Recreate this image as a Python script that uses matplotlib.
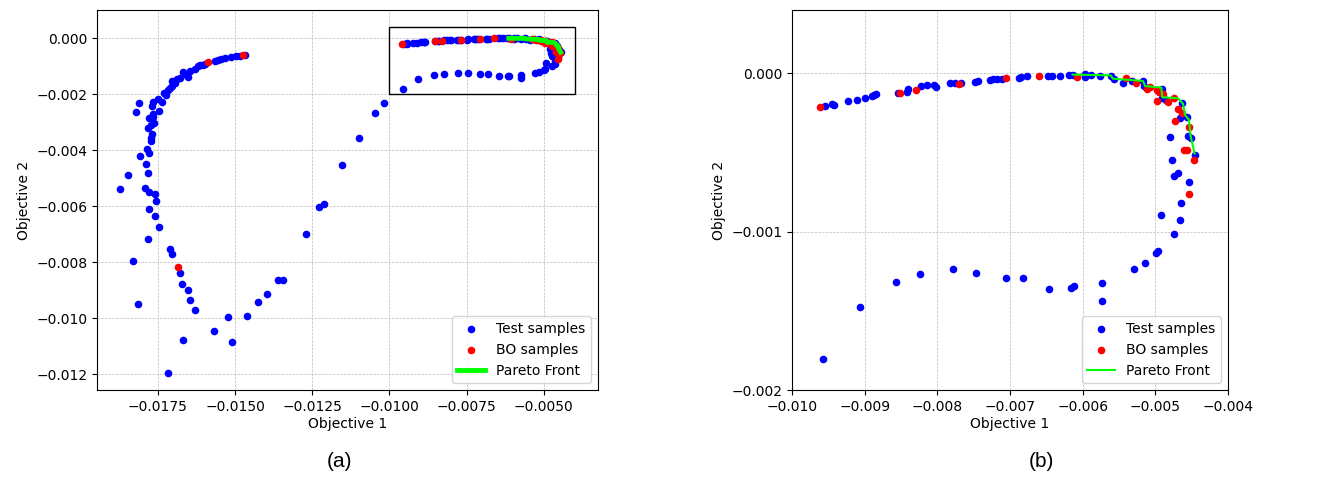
import numpy as np
import matplotlib
matplotlib.use("Agg")
import matplotlib.pyplot as plt
from matplotlib.patches import Rectangle

# test samples (objective 1, objective 2)
test_x = [
    # zoomed region, upper arc
    -0.009541, -0.009445, -0.009417, -0.009234, -0.009110, -0.008995, -0.008894, -0.008867, -0.008839,
    -0.008541, -0.008422, -0.008399, -0.008229, -0.008147, -0.008046, -0.008023, -0.007826, -0.007761,
    -0.007674, -0.007482, -0.007445, -0.007275, -0.007229, -0.007179, -0.007115, -0.006872, -0.006849,
    -0.006771, -0.006477, -0.006427, -0.006317, -0.006183, -0.006138, -0.005972, -0.005972, -0.005881,
    -0.005757, -0.005615, -0.005569, -0.005450, -0.005317, -0.005174, -0.005151, -0.004940, -0.004908,
    -0.004904, -0.004849, -0.004633, -0.004656, -0.004560, -0.004555, -0.004505, -0.004803, -0.004459,
    # zoomed region, lower loop
    -0.004766, -0.004748, -0.004683, -0.004532, -0.004647, -0.004656, -0.004922, -0.004748, -0.004986,
    -0.004963, -0.005147, -0.005298, -0.005734, -0.005739, -0.006115, -0.006156, -0.006468, -0.006817,
    -0.007060, -0.007463, -0.007789, -0.008243, -0.008569, -0.009069, -0.009578,
    # left arc
    -0.014693, -0.014963, -0.015125, -0.015341, -0.015557, -0.015665, -0.015989, -0.016043, -0.016205,
    -0.016313, -0.016475, -0.016528, -0.016636, -0.016798, -0.016885, -0.016960, -0.017036, -0.017122,
    -0.017176, -0.017316, -0.017252, -0.017500, -0.017360, -0.018115, -0.017662, -0.017694, -0.018202,
    -0.017478, -0.017662, -0.017791, -0.017662, -0.017630, -0.017716, -0.017824, -0.017705, -0.017727,
    -0.017727, -0.017856, -0.017802, -0.018072, -0.017878, -0.017813, -0.018472, -0.018741, -0.017932,
    -0.017781, -0.017586, -0.017576, -0.017781, -0.017608, -0.017457, -0.017824, -0.017111, -0.017057,
    -0.018310, -0.016777, -0.016723, -0.016528, -0.016453, -0.016302, -0.018137, -0.015222, -0.014607,
    -0.015676, -0.016680, -0.015093, -0.017187, -0.014272, -0.013959, -0.013603, -0.013463, -0.012707,
    -0.012286, -0.012124, -0.011531, -0.011002, -0.010484, -0.010171,
    -0.014850, -0.015450, -0.016150, -0.016700, -0.017050,
]
test_y = [
    -0.000208, -0.000193, -0.000199, -0.000174, -0.000166, -0.000157, -0.000145, -0.000134, -0.000132,
    -0.000124, -0.000115, -0.000101, -0.000082, -0.000075, -0.000073, -0.000088, -0.000061, -0.000063,
    -0.000061, -0.000055, -0.000046, -0.000042, -0.000036, -0.000036, -0.000036, -0.000031, -0.000025,
    -0.000019, -0.000017, -0.000017, -0.000017, -0.000008, -0.000008, -0.000004, -0.000025, -0.000010,
    -0.000019, -0.000017, -0.000038, -0.000059, -0.000046, -0.000050, -0.000080, -0.000105, -0.000101,
    -0.000153, -0.000170, -0.000189, -0.000283, -0.000273, -0.000394, -0.000411, -0.000400, -0.000514,
    -0.000545, -0.000648, -0.000631, -0.000688, -0.000822, -0.000925, -0.000897, -0.001015, -0.001132,
    -0.001119, -0.001195, -0.001233, -0.001323, -0.001440, -0.001342, -0.001356, -0.001363, -0.001294,
    -0.001291, -0.001264, -0.001235, -0.001268, -0.001317, -0.001476, -0.001807,
    -0.000619, -0.000655, -0.000679, -0.000726, -0.000798, -0.000821, -0.000917, -0.000976, -0.001012,
    -0.001095, -0.001167, -0.001393, -0.001274, -0.001429, -0.001464, -0.001607, -0.001702, -0.001786,
    -0.001845, -0.001964, -0.002024, -0.002167, -0.002298, -0.002333, -0.002298, -0.002440, -0.002655,
    -0.002595, -0.002702, -0.002857, -0.002821, -0.003036, -0.003095, -0.003214, -0.003417, -0.003571,
    -0.003690, -0.003964, -0.004107, -0.004226, -0.004488, -0.004821, -0.004905, -0.005393, -0.005357,
    -0.005512, -0.005583, -0.005833, -0.006095, -0.006357, -0.006750, -0.007155, -0.007512, -0.007702,
    -0.007952, -0.008393, -0.008774, -0.008976, -0.009333, -0.009690, -0.009476, -0.009964, -0.009929,
    -0.010440, -0.010786, -0.010857, -0.011964, -0.009417, -0.009143, -0.008643, -0.008643, -0.006976,
    -0.006024, -0.005905, -0.004548, -0.003583, -0.002679, -0.002333,
    -0.000640, -0.000760, -0.000960, -0.001200, -0.001520,
]

# BO samples
bo_x = [
    -0.009610, -0.008518, -0.008298, -0.007697, -0.007060, -0.006606, -0.006078, -0.005399, -0.005261,
    -0.005110, -0.004977, -0.004977, -0.004894, -0.004826, -0.004739, -0.004688, -0.004729, -0.004638,
    -0.004537, -0.004610, -0.004564, -0.004468, -0.004532, -0.005078, -0.004950,
    -0.014758, -0.015870, -0.016842,
]
bo_y = [
    -0.000210, -0.000124, -0.000103, -0.000065, -0.000027, -0.000017, -0.000025, -0.000027, -0.000063,
    -0.000096, -0.000105, -0.000172, -0.000130, -0.000178, -0.000157, -0.000226, -0.000300, -0.000252,
    -0.000340, -0.000482, -0.000484, -0.000549, -0.000761, -0.000088, -0.000115,
    -0.000595, -0.000869, -0.008155,
]

# Pareto front
pareto_x = [-0.006138, -0.005615, -0.005583, -0.005170, -0.005142, -0.004917, -0.004904,
            -0.004688, -0.004619, -0.004592, -0.004537, -0.004514, -0.004459]
pareto_y = [-0.000008, -0.000013, -0.000034, -0.000048, -0.000080, -0.000090, -0.000151,
            -0.000157, -0.000193, -0.000262, -0.000294, -0.000398, -0.000507]

plt.rcParams['font.size'] = 10

fig = plt.figure(figsize=(13.38, 4.83), dpi=100)
ax1 = fig.add_axes([0.0725, 0.1925, 0.3744, 0.7868])
ax2 = fig.add_axes([0.5919, 0.1925, 0.3259, 0.7868])

for ax, lw in [(ax1, 3.5), (ax2, 1.5)]:
    ax.scatter(test_x, test_y, s=20, color='blue', label='Test samples', zorder=2)
    ax.scatter(bo_x, bo_y, s=20, color='red', label='BO samples', zorder=3)
    ax.plot(pareto_x, pareto_y, color='#00ff00', lw=lw, label='Pareto Front', zorder=4)
    ax.grid(True, linestyle='--', linewidth=0.5, color='#bbbbbb')
    ax.set_axisbelow(True)
    ax.set_xlabel('Objective 1', labelpad=2)
    ax.set_ylabel('Objective 2')
    ax.legend(loc='lower right')

ax1.set_xlim(-0.01947, -0.00325)
ax1.set_ylim(-0.01256, 0.001)
ax1.set_xticks(np.arange(-0.0175, -0.0049, 0.0025))
ax1.set_yticks(np.arange(-0.012, 0.0001, 0.002))
ax1.add_patch(Rectangle((-0.010, -0.002), 0.006, 0.0024, fill=False,
                        edgecolor='black', lw=1, zorder=5))

ax2.set_xlim(-0.010, -0.004)
ax2.set_ylim(-0.002, 0.0004)
ax2.set_xticks(np.arange(-0.010, -0.0039, 0.001))
ax2.set_yticks([-0.002, -0.001, 0.0])

fig.text(0.254, 0.033, '(a)', fontsize=15, family='Liberation Sans', ha='center')
fig.text(0.778, 0.033, '(b)', fontsize=15, family='Liberation Sans', ha='center')

fig.savefig('out.png', dpi=100)
